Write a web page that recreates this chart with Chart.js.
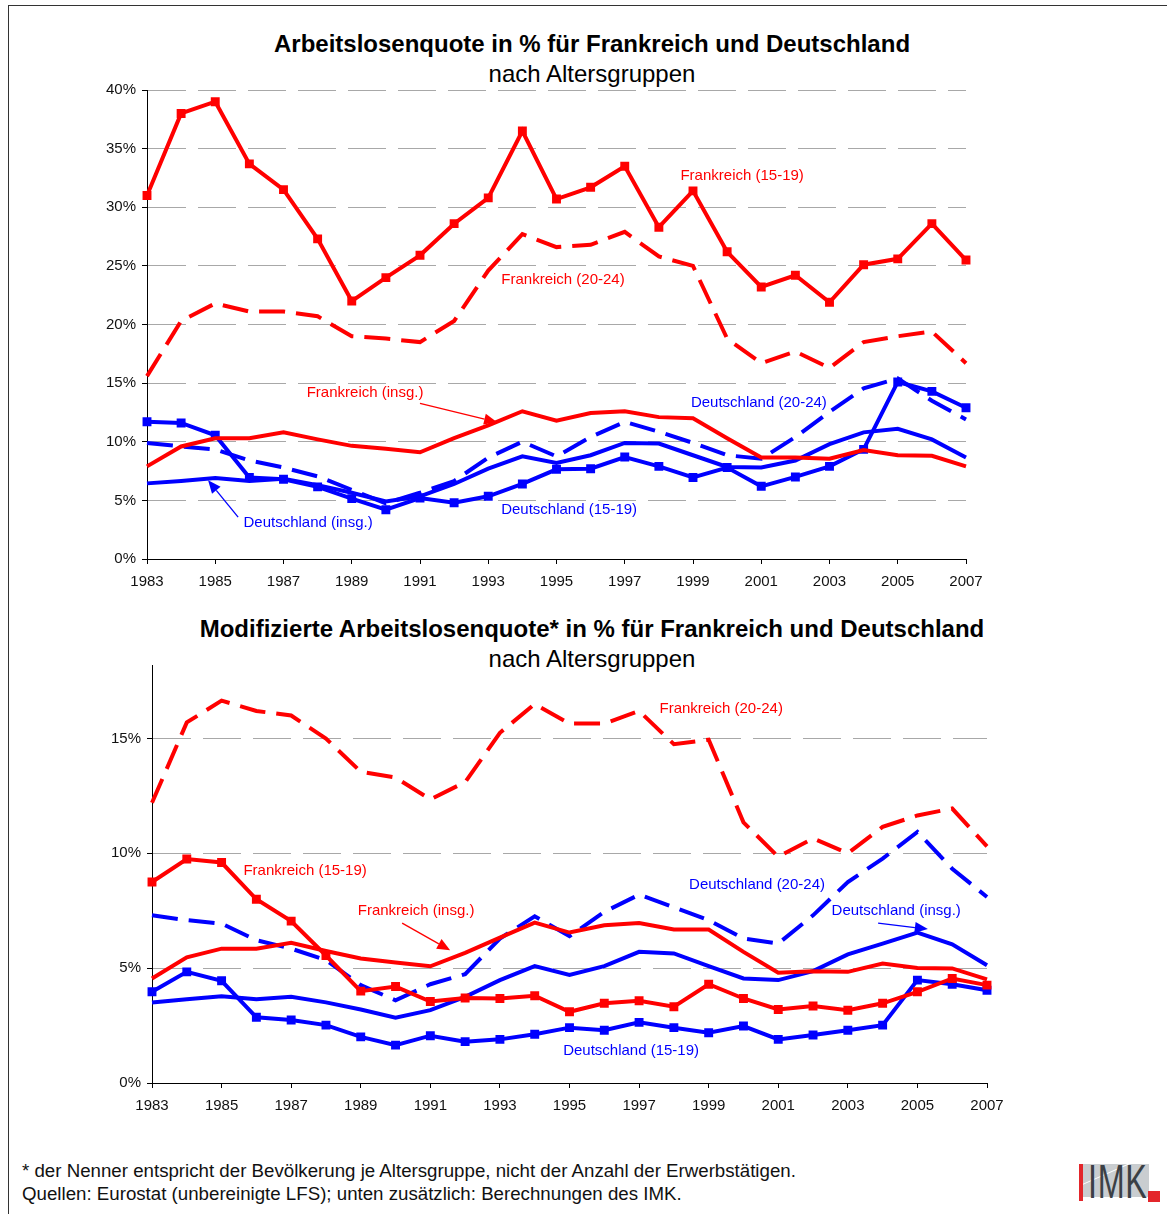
<!DOCTYPE html>
<html>
<head>
<meta charset="utf-8">
<script src="https://cdn.jsdelivr.net/npm/chart.js@4.4.0/dist/chart.umd.min.js"></script>
<style>
  html, body { margin:0; padding:0; background:#fff; }
  body { width:1171px; height:1214px; position:relative; overflow:hidden; font-family:"Liberation Sans", Arial, sans-serif; }
  .frame { position:absolute; left:8px; top:5px; width:1158px; height:1220px; border-left:1px solid #333; border-top:1px solid #333; }
  .title { position:absolute; left:0; width:1184px; text-align:center; color:#000; font-size:24px; line-height:28px; }
  .title.b { font-weight:bold; }
  canvas { position:absolute; left:0; }
  .foot { position:absolute; left:22px; font-size:18.7px; line-height:23px; color:#111; white-space:nowrap; }
  .logo-bar { position:absolute; left:1079px; top:1164px; width:4px; height:37px; background:#e3262b; }
  .logo-box { position:absolute; left:1083px; top:1164px; width:66px; height:33px; background:#c9cdd0; overflow:hidden; }
  .logo-line { position:absolute; left:-5px; top:22px; width:90px; height:1px; background:#fff; transform:rotate(-24deg); transform-origin:0 0; }
  .logo-txt { position:absolute; left:1088px; top:1155px; font-size:49px; line-height:52px; color:#3b4045; transform:scaleX(0.66); transform-origin:0 0; letter-spacing:1px; }
  .logo-sq { position:absolute; left:1148px; top:1191px; width:12px; height:11px; background:#e3262b; }
</style>
</head>
<body>
<div class="frame"></div>

<div class="title b" style="top:30px">Arbeitslosenquote in % für Frankreich und Deutschland</div>
<div class="title" style="top:60px">nach Altersgruppen</div>
<canvas id="c1" width="1171" height="525" style="top:75px"></canvas>

<div class="title b" style="top:615px">Modifizierte Arbeitslosenquote* in % für Frankreich und Deutschland</div>
<div class="title" style="top:645px">nach Altersgruppen</div>
<canvas id="c2" width="1171" height="474" style="top:650px"></canvas>

<div class="foot" style="top:1159px">* der Nenner entspricht der Bevölkerung je Altersgruppe, nicht der Anzahl der Erwerbstätigen.</div>
<div class="foot" style="top:1182px">Quellen: Eurostat (unbereinigte LFS); unten zusätzlich: Berechnungen des IMK.</div>

<div class="logo-bar"></div>
<div class="logo-box"><div class="logo-line"></div></div>
<div class="logo-txt">IMK</div>
<div class="logo-sq"></div>

<script>
// ---------- DATA ----------
const years = ['1983','1984','1985','1986','1987','1988','1989','1990','1991','1992','1993','1994',
               '1995','1996','1997','1998','1999','2000','2001','2002','2003','2004','2005','2006','2007'];

// Top chart: Arbeitslosenquote (%)
const frTop_15_19 = [31.0,38.0,39.0,33.7,31.5,27.3,22.0,24.0,25.9,28.6,30.8,36.5,30.7,31.7,33.5,28.3,31.4,26.2,23.2,24.2,21.9,25.1,25.6,28.6,25.5];
const frTop_20_24 = [15.6,20.3,21.8,21.1,21.1,20.7,19.0,18.8,18.5,20.3,24.6,27.7,26.6,26.8,27.9,25.8,25.0,18.8,16.7,17.7,16.3,18.5,19.0,19.4,16.7];
const frTop_insg  = [7.9,9.6,10.3,10.3,10.8,10.2,9.65,9.4,9.1,10.3,11.4,12.6,11.8,12.45,12.6,12.1,12.0,10.3,8.65,8.65,8.55,9.3,8.85,8.8,7.9];
const deTop_15_19 = [11.7,11.6,10.55,6.95,6.8,6.15,5.15,4.2,5.2,4.8,5.35,6.4,7.65,7.7,8.7,7.9,6.95,7.8,6.2,7.0,7.9,9.35,15.1,14.3,12.9];
const deTop_20_24 = [9.9,9.6,9.35,8.4,7.8,7.05,5.9,4.75,5.65,6.65,8.65,10.0,8.75,10.4,11.7,10.85,9.9,8.85,8.55,10.4,12.55,14.55,15.4,13.5,11.9];
const deTop_insg  = [6.45,6.65,6.9,6.65,6.85,6.3,5.65,4.9,5.35,6.4,7.7,8.75,8.2,8.85,9.9,9.85,8.85,7.85,7.8,8.4,9.8,10.8,11.1,10.2,8.65];

// Bottom chart: modifizierte Arbeitslosenquote (%)
const frBot_20_24 = [12.2,15.7,16.65,16.2,16.0,15.0,13.55,13.3,12.35,13.1,15.25,16.5,15.65,15.65,16.2,14.75,14.95,11.35,9.85,10.65,10.0,11.15,11.65,11.95,10.3];
const frBot_15_19 = [8.75,9.75,9.6,8.0,7.05,5.55,4.0,4.2,3.55,3.7,3.68,3.8,3.1,3.47,3.58,3.32,4.3,3.68,3.2,3.35,3.17,3.47,3.97,4.55,4.26];
const frBot_insg  = [4.55,5.47,5.85,5.85,6.1,5.75,5.42,5.25,5.08,5.67,6.33,6.98,6.55,6.87,6.97,6.68,6.68,5.71,4.8,4.87,4.84,5.2,5.01,4.99,4.51];
const deBot_15_19 = [3.97,4.84,4.45,2.86,2.74,2.52,2.01,1.65,2.06,1.8,1.9,2.12,2.41,2.3,2.64,2.41,2.19,2.48,1.9,2.09,2.3,2.52,4.48,4.3,4.04];
const deBot_20_24 = [7.3,7.09,6.94,6.22,5.85,5.35,4.26,3.6,4.3,4.74,6.29,7.26,6.39,7.45,8.2,7.65,7.09,6.29,6.07,7.3,8.75,9.77,10.93,9.33,8.1];
const deBot_insg  = [3.51,3.65,3.78,3.65,3.75,3.51,3.2,2.84,3.17,3.75,4.48,5.09,4.7,5.09,5.71,5.64,5.09,4.55,4.48,4.87,5.6,6.07,6.55,6.04,5.13];

// Tick labels
const yTicksTop = [0,5,10,15,20,25,30,35,40];
const yTicksBottom = [0,5,10,15];

// Series label texts
const seriesNames = {
  fr1519: 'Frankreich (15-19)', fr2024: 'Frankreich (20-24)', frIns: 'Frankreich (insg.)',
  de1519: 'Deutschland (15-19)', de2024: 'Deutschland (20-24)', deIns: 'Deutschland (insg.)'
};

// ---------- STYLE / LAYOUT ----------
const RED = '#ff0000', BLUE = '#0000ff';
const FONT = '"Liberation Sans", Arial, sans-serif';
const DASH = [26, 11];

function ds(label, data, color, dashed, markers) {
  return {
    label, data,
    borderColor: color, backgroundColor: color,
    borderWidth: 4, borderDash: dashed ? DASH : [],
    borderCapStyle: 'butt', borderJoinStyle: 'miter',
    tension: 0, fill: false,
    pointStyle: 'rect', pointRadius: markers ? 6.3 : 0,
    pointBorderWidth: 0, pointHoverRadius: markers ? 6.3 : 0,
    pointBackgroundColor: color
  };
}

// annotation positions in data coordinates (category index, value)
const annotTop = [
  {text: seriesNames.fr1519, color: RED, x: 17.44, y: 32.7},
  {text: seriesNames.fr2024, color: RED, x: 12.19, y: 23.8},
  {text: seriesNames.frIns,  color: RED, x: 6.39,  y: 14.2, arrow: {x1: 8.0, y1: 13.28, x2: 10.26, y2: 11.66}},
  {text: seriesNames.de2024, color: BLUE, x: 17.93, y: 13.28},
  {text: seriesNames.de1519, color: BLUE, x: 12.37, y: 4.17},
  {text: seriesNames.deIns,  color: BLUE, x: 4.72,  y: 3.06, arrow: {x1: 2.67, y1: 3.57, x2: 1.79, y2: 6.72}}
];
const annotBottom = [
  {text: seriesNames.fr2024, color: RED, x: 16.36, y: 16.3},
  {text: seriesNames.fr1519, color: RED, x: 4.4,   y: 9.22},
  {text: seriesNames.frIns,  color: RED, x: 7.59,  y: 7.48, arrow: {x1: 7.19, y1: 6.96, x2: 8.57, y2: 5.78}},
  {text: seriesNames.de2024, color: BLUE, x: 17.39, y: 8.61},
  {text: seriesNames.deIns,  color: BLUE, x: 21.39, y: 7.48, arrow: {x1: 20.87, y1: 6.96, x2: 22.3, y2: 6.70}},
  {text: seriesNames.de1519, color: BLUE, x: 13.77, y: 1.39}
];

const annotPlugin = {
  id: 'annot',
  afterDatasetsDraw(chart, args, opts) {
    const ctx = chart.ctx, xs = chart.scales.x, ys = chart.scales.y;
    ctx.save();
    ctx.font = '15px ' + FONT;
    ctx.textAlign = 'center';
    ctx.textBaseline = 'middle';
    (opts.items || []).forEach(a => {
      ctx.fillStyle = a.color;
      ctx.fillText(a.text, xs.getPixelForValue(a.x), ys.getPixelForValue(a.y));
      if (a.arrow) {
        const x1 = xs.getPixelForValue(a.arrow.x1), y1 = ys.getPixelForValue(a.arrow.y1);
        const x2 = xs.getPixelForValue(a.arrow.x2), y2 = ys.getPixelForValue(a.arrow.y2);
        const ang = Math.atan2(y2 - y1, x2 - x1);
        const L = 13, W = 5.5;
        const bx = x2 - L * Math.cos(ang), by = y2 - L * Math.sin(ang);
        ctx.strokeStyle = a.color; ctx.lineWidth = 1.3;
        ctx.beginPath(); ctx.moveTo(x1, y1); ctx.lineTo(bx, by); ctx.stroke();
        ctx.beginPath();
        ctx.moveTo(x2, y2);
        ctx.lineTo(bx + W * Math.sin(ang), by - W * Math.cos(ang));
        ctx.lineTo(bx - W * Math.sin(ang), by + W * Math.cos(ang));
        ctx.closePath(); ctx.fill();
      }
    });
    ctx.restore();
  }
};

function makeChart(id, datasets, yMax, yTicks, annots, layout) {
  return new Chart(document.getElementById(id), {
    type: 'line',
    data: { labels: years, datasets },
    options: {
      responsive: false, animation: false, devicePixelRatio: 1,
      layout: { padding: { left: 0, right: 1171 - layout.right, top: layout.top, bottom: 0 } },
      plugins: { legend: { display: false }, tooltip: { enabled: false }, annot: { items: annots } },
      scales: {
        x: {
          type: 'category', offset: false,
          afterFit: s => { s.height = 41; },
          grid: { display: true, drawOnChartArea: false, drawTicks: true, tickLength: 5,
                  tickColor: c => (c.index % 2 === 0 ? '#000' : 'rgba(0,0,0,0)') },
          border: { display: true, color: '#000', width: 1 },
          ticks: { autoSkip: false, maxRotation: 0, minRotation: 0, padding: 9, color: '#111',
                   font: { family: FONT, size: 15 },
                   callback: (v, i) => (i % 2 === 0 ? years[i] : '') }
        },
        y: {
          min: 0, max: yMax,
          afterFit: s => { s.width = layout.left; },
          afterBuildTicks: s => { s.ticks = yTicks.map(v => ({ value: v })); },
          grid: { color: c => (c.tick && c.tick.value === 0 ? 'rgba(0,0,0,0)' : '#a8a8a8'),
                  lineWidth: 1, drawTicks: true, tickLength: 5, tickColor: '#000', tickBorderDash: [] },
          border: { display: true, color: '#000', width: 1, dash: [38, 12] },
          ticks: { padding: 6, color: '#111', font: { family: FONT, size: 15 },
                   callback: v => v + '%' }
        }
      }
    },
    plugins: [annotPlugin]
  });
}

makeChart('c1', [
  ds(seriesNames.fr1519, frTop_15_19, RED, false, true),
  ds(seriesNames.frIns,  frTop_insg,  RED, false, false),
  ds(seriesNames.fr2024, frTop_20_24, RED, true,  false),
  ds(seriesNames.de1519, deTop_15_19, BLUE, false, true),
  ds(seriesNames.deIns,  deTop_insg,  BLUE, false, false),
  ds(seriesNames.de2024, deTop_20_24, BLUE, true,  false)
], 40, yTicksTop, annotTop, { left: 147, right: 966, top: 13 });

makeChart('c2', [
  ds(seriesNames.fr1519, frBot_15_19, RED, false, true),
  ds(seriesNames.frIns,  frBot_insg,  RED, false, false),
  ds(seriesNames.fr2024, frBot_20_24, RED, true,  false),
  ds(seriesNames.de1519, deBot_15_19, BLUE, false, true),
  ds(seriesNames.deIns,  deBot_insg,  BLUE, false, false),
  ds(seriesNames.de2024, deBot_20_24, BLUE, true,  false)
], 18.2, yTicksBottom, annotBottom, { left: 152, right: 987, top: 15 });
</script>
</body>
</html>
